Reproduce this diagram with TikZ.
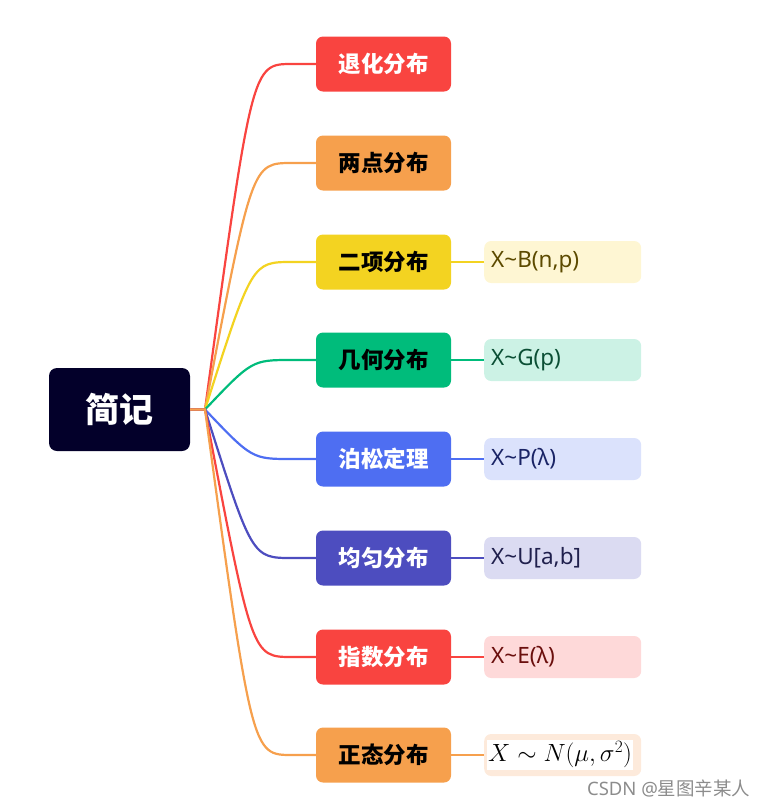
\documentclass[tikz,border=0pt]{standalone}
\usepackage{fontspec}
\setmainfont{Noto Sans}
\newfontfamily\cjk{Noto Sans CJK SC}
\definecolor{cRed}{HTML}{F94440}
\definecolor{cOrange}{HTML}{F6A04D}
\definecolor{cYellow}{HTML}{F3D321}
\definecolor{cGreen}{HTML}{00BC7B}
\definecolor{cBlue}{HTML}{4E6EF2}
\definecolor{cIndigo}{HTML}{4D4DBF}
\definecolor{cRoot}{HTML}{03002A}
\definecolor{lYellow}{HTML}{FEF6D3}
\definecolor{lGreen}{HTML}{CCF2E5}
\definecolor{lBlue}{HTML}{DBE2FC}
\definecolor{lIndigo}{HTML}{DBDBF2}
\definecolor{lRed}{HTML}{FED9D9}
\definecolor{lOrange}{HTML}{FDEADB}
\definecolor{tYellow}{HTML}{5C4A00}
\definecolor{tGreen}{HTML}{0B4F35}
\definecolor{tBlue}{HTML}{1A2466}
\definecolor{tIndigo}{HTML}{20204D}
\definecolor{tRed}{HTML}{6B0F0D}
\tikzset{
  branchbox/.style={rectangle, rounded corners=7pt, minimum width=135pt, minimum height=55pt, inner sep=0pt,
    font=\cjk\bfseries\fontsize{22.5}{25}\selectfont},
  leafbox/.style={rectangle, rounded corners=7pt, anchor=west, minimum height=42pt, text width=143pt,
    inner xsep=7pt, inner ysep=0pt, align=left, font=\fontsize{22.5}{25}\selectfont},
  link/.style={line width=2.2pt},
}
\begin{document}
\begin{tikzpicture}[x=1pt,y=-1pt]
\useasboundingbox (0,0) rectangle (770,807);
\node[rectangle, rounded corners=8pt, fill=cRoot, text=white, minimum width=141pt, minimum height=83pt,
  font=\cjk\bfseries\fontsize{34}{37}\selectfont] (root) at (119.5,409.5) {简记};
\coordinate (hub) at (205,409.5);
\foreach \name/\y/\txt/\col/\tcol in {
  b1/64/退化分布/cRed/white,
  b2/163/两点分布/cOrange/black,
  b3/262/二项分布/cYellow/black,
  b4/360/几何分布/cGreen/black,
  b5/459/泊松定理/cBlue/white,
  b6/558/均匀分布/cIndigo/white,
  b7/657/指数分布/cRed/white,
  b8/755/正态分布/cOrange/black}{
  \node[branchbox, fill=\col, text=\tcol] (\name) at (383.5,\y) {\txt};
  \draw[link, draw=\col] (root.east) -- (hub) .. controls (252,\y) .. (292,\y) -- (\name.west);
}
\node[leafbox, fill=lYellow, text=tYellow] (l3) at (484,262) {X\textasciitilde B(n,p)};
\node[leafbox, fill=lGreen, text=tGreen] (l4) at (484,360) {X\textasciitilde G(p)};
\node[leafbox, fill=lBlue, text=tBlue] (l5) at (484,459) {X\textasciitilde P(λ)};
\node[leafbox, fill=lIndigo, text=tIndigo] (l6) at (484,558) {X\textasciitilde U[a,b]};
\node[leafbox, fill=lRed, text=tRed] (l7) at (484,657) {X\textasciitilde E(λ)};
\node[leafbox, fill=lOrange] (l8) at (484,755) {};
\node[anchor=west, fill=white, inner xsep=1pt, inner ysep=2pt, font=\fontsize{25.5}{29}\selectfont] (m8) at (487,755) {$X\sim N(\mu,\sigma^2)$};
\draw[link, draw=cYellow] (b3.east) -- (l3.west);
\draw[link, draw=cGreen] (b4.east) -- (l4.west);
\draw[link, draw=cBlue] (b5.east) -- (l5.west);
\draw[link, draw=cIndigo] (b6.east) -- (l6.west);
\draw[link, draw=cRed] (b7.east) -- (l7.west);
\draw[link, draw=cOrange] (b8.east) -- (l8.west);
\node[anchor=east, text=black!45, font=\fontsize{18.5}{21}\selectfont] (wm) at (754,788) {CSDN @{\cjk 星图辛某人}};
\end{tikzpicture}
\end{document}
